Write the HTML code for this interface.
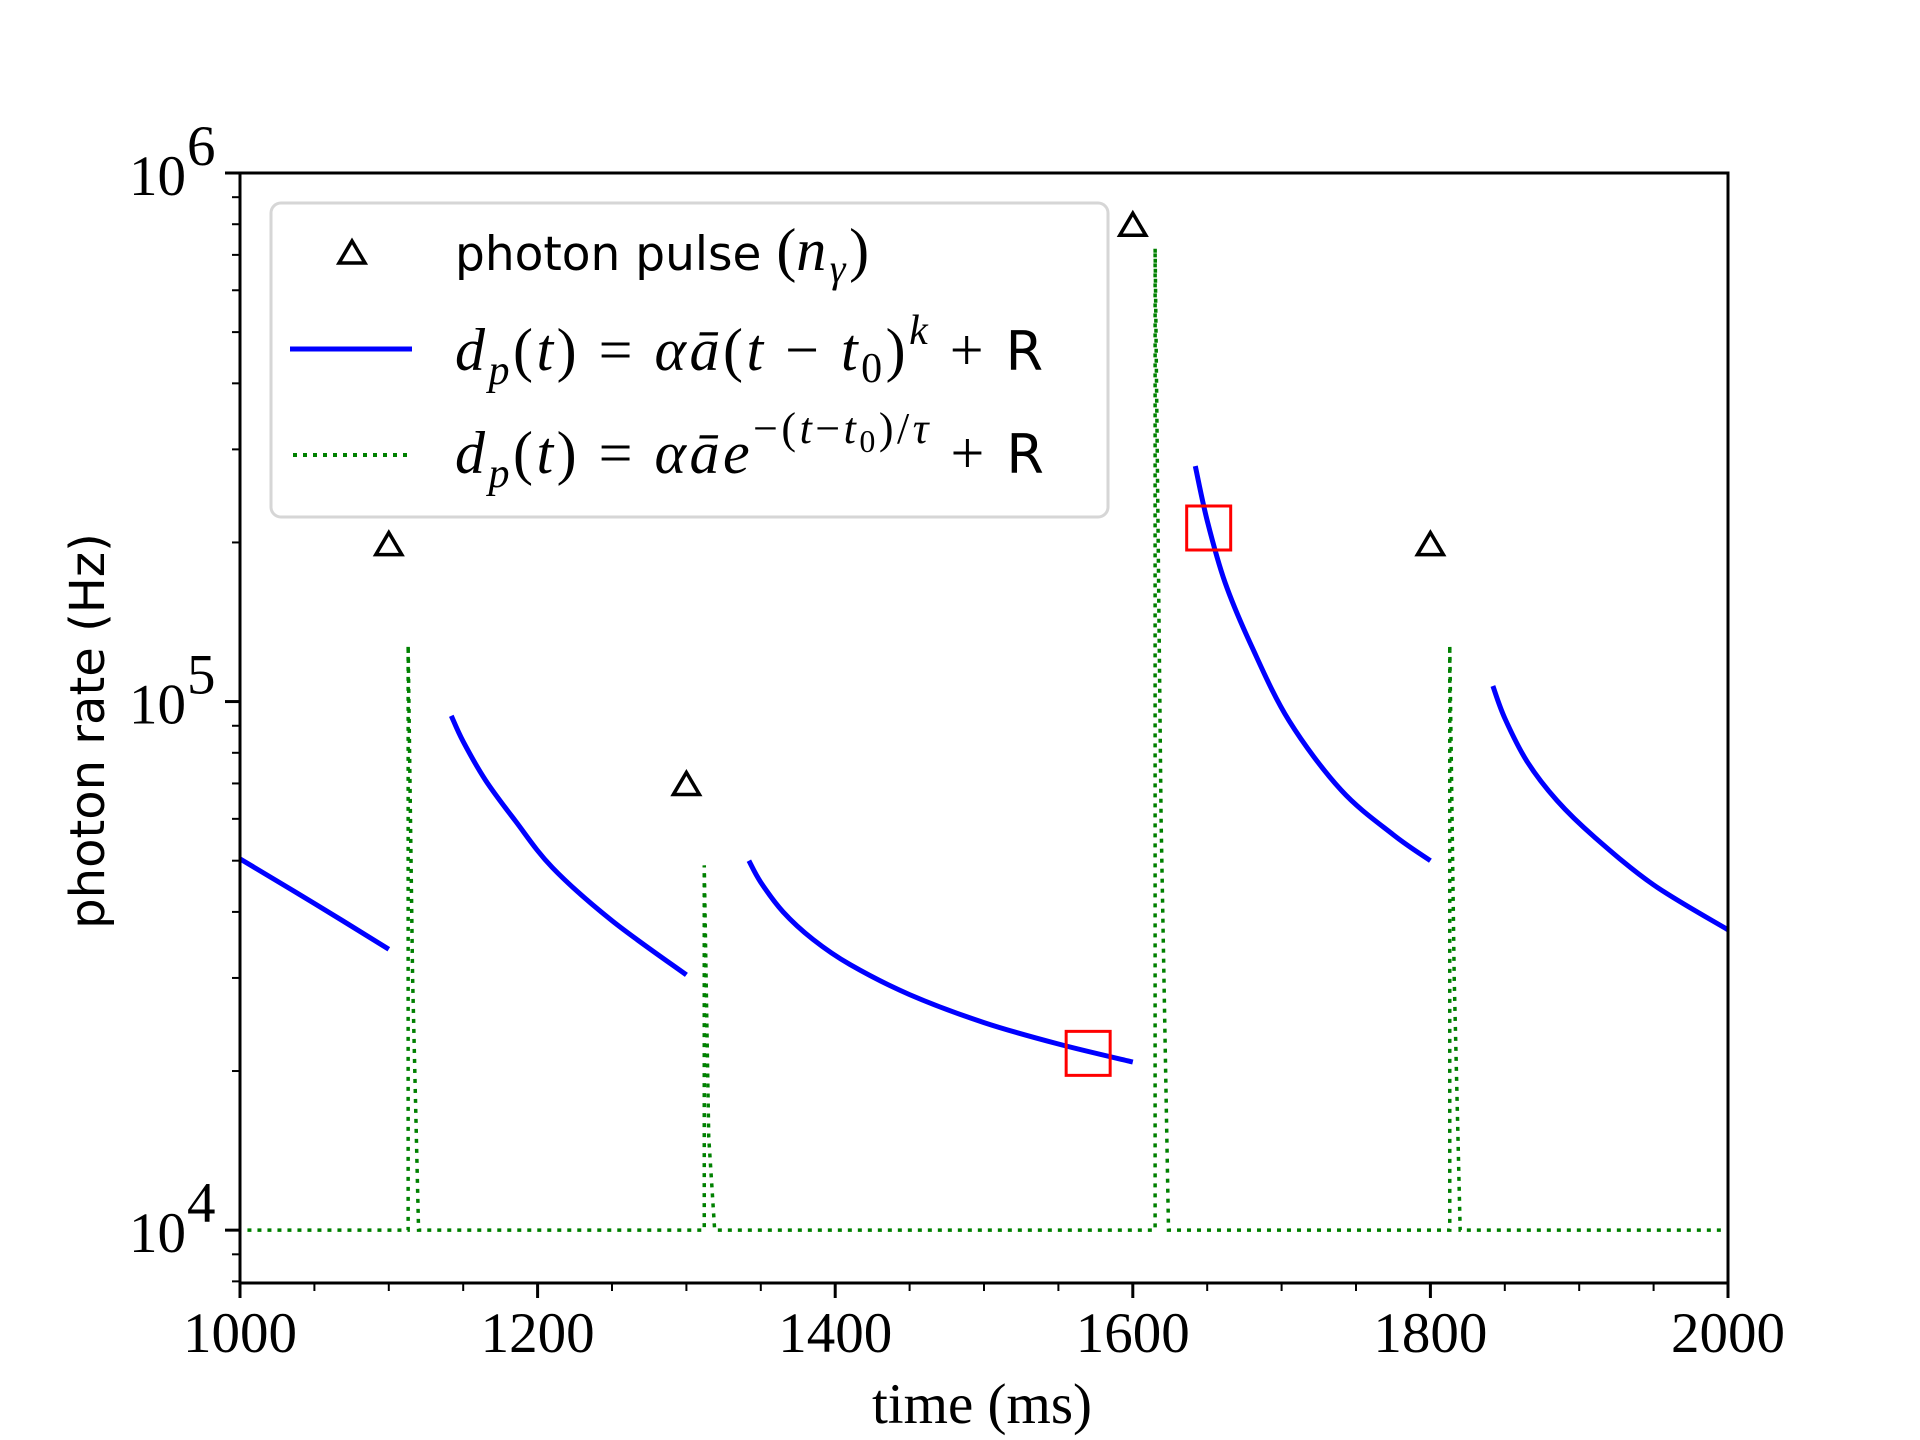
<!DOCTYPE html>
<html><head><meta charset="utf-8"><style>
html,body{margin:0;padding:0;background:#fff;}
svg{display:block;}
.tick{font-family:"Liberation Serif",serif;font-size:57px;fill:#000;}
.sans{font-family:"DejaVu Sans","Liberation Sans",sans-serif;fill:#000;}
.math{font-family:"Liberation Serif",serif;font-style:italic;fill:#000;letter-spacing:3.5px;}
.rm{font-family:"Liberation Serif",serif;font-style:normal;}
</style></head><body>
<svg id="chart" width="1920" height="1440" viewBox="0 0 1920 1440" xmlns="http://www.w3.org/2000/svg">
<rect width="1920" height="1440" fill="#fff"/>
<g id="plot"></g>
<g id="axes"></g>
<g id="legend">
  <rect x="271" y="203" width="837" height="314" rx="10" fill="#fff" fill-opacity="0.85" stroke="#d6d6d6" stroke-width="3"/>
  <polygon points="339,263 352,241 365,263" fill="none" stroke="#000" stroke-width="3.5"/>
  <text x="455" y="270" class="sans" font-size="47">photon pulse <tspan class="rm" font-size="60">(</tspan><tspan class="math" font-size="60">n</tspan><tspan class="math" font-size="40" dy="12">γ</tspan><tspan class="rm" font-size="60" dy="-12">)</tspan></text>
  <line x1="290" y1="349" x2="412" y2="349" stroke="#0000ff" stroke-width="5"/>
  <text x="455" y="370" class="math" font-size="60">d<tspan font-size="42" dy="14">p</tspan><tspan class="rm" dy="-14">(</tspan>t<tspan class="rm">)  </tspan><tspan class="rm">=  </tspan>αā<tspan class="rm">(</tspan>t<tspan class="rm"> − </tspan>t<tspan class="rm" font-size="42" dy="12">0</tspan><tspan class="rm" dy="-12">)</tspan><tspan font-size="42" dy="-26">k</tspan><tspan class="rm" dy="26">  + </tspan><tspan font-family="DejaVu Sans,sans-serif" font-style="normal" font-size="54">R</tspan></text>
  <line x1="293" y1="455" x2="412" y2="455" stroke="#008000" stroke-width="4" stroke-dasharray="4,6"/>
  <text x="455" y="473" class="math" font-size="60">d<tspan font-size="42" dy="14">p</tspan><tspan class="rm" dy="-14">(</tspan>t<tspan class="rm">)  </tspan><tspan class="rm">=  </tspan>αāe<tspan font-size="44" dy="-30"><tspan class="rm">−(</tspan>t<tspan class="rm">−</tspan>t<tspan class="rm" font-size="32" dy="9">0</tspan><tspan class="rm" dy="-9">)/</tspan>τ</tspan><tspan class="rm" dy="30">   + </tspan><tspan font-family="DejaVu Sans,sans-serif" font-style="normal" font-size="54">R</tspan></text>
</g>
</svg>
<script>
// ---- data ----
const xTicks = [1000, 1200, 1400, 1600, 1800, 2000];
const yDecades = [4, 5, 6];
const seg1T = [1000, 1050, 1100];
const seg1V = [50400, 41500, 34000];
const seg2T = [1142, 1150, 1165, 1185, 1210, 1250, 1300];
const seg2V = [94000, 84000, 71000, 59500, 48500, 38500, 30400];
const seg3T = [1342, 1350, 1365, 1385, 1410, 1450, 1500, 1550, 1600];
const seg3V = [50000, 45500, 40000, 35500, 31800, 27900, 24700, 22500, 20800];
const seg4T = [1642, 1650, 1662, 1680, 1705, 1740, 1775, 1800];
const seg4V = [279000, 220000, 168000, 127000, 92000, 68000, 56000, 50000];
const seg5T = [1842, 1850, 1865, 1885, 1910, 1950, 2000];
const seg5V = [107000, 93000, 77000, 65000, 55500, 45000, 37000];
const expT = [1005, 1113, 1113, 1116, 1120, 1312, 1312, 1315, 1319, 1615, 1615, 1619, 1624, 1813, 1813, 1816, 1820, 2000];
const expV = [10000, 10000, 128000, 30000, 10000, 10000, 49000, 15000, 10000, 10000, 721000, 60000, 10000, 10000, 128000, 30000, 10000, 10000];
const pulseT = [1100, 1300, 1600, 1800];
const pulseV = [199000, 70000, 800000, 199000];
const boxT = [1570, 1651];
const boxV = [21600, 213000];

// ---- axes functions ----
const X0 = 240, X1 = 1728, Y0 = 1283, Y1 = 173;
const xMin = 1000, xMax = 2000, lMin = 3.9, lMax = 6;
const xs = t => X0 + (t - xMin) / (xMax - xMin) * (X1 - X0);
const ys = v => Y0 - (Math.log10(v) - lMin) / (lMax - lMin) * (Y0 - Y1);
const NS = "http://www.w3.org/2000/svg";
const plot = document.getElementById('plot');
const axes = document.getElementById('axes');
function mk(tag, attrs, parent) {
  const e = document.createElementNS(NS, tag);
  for (const k in attrs) e.setAttribute(k, attrs[k]);
  parent.appendChild(e);
  return e;
}
function smoothPath(T, V) {
  const p = T.map((t, i) => [xs(t), ys(V[i])]);
  let d = 'M' + p[0][0] + ',' + p[0][1];
  for (let i = 0; i < p.length - 1; i++) {
    const a = p[i - 1] || p[i], b = p[i], c = p[i + 1], e = p[i + 2] || c;
    const c1 = [b[0] + (c[0] - a[0]) / 6, b[1] + (c[1] - a[1]) / 6];
    const c2 = [c[0] - (e[0] - b[0]) / 6, c[1] - (e[1] - b[1]) / 6];
    d += ' C' + c1 + ' ' + c2 + ' ' + c;
  }
  return d;
}
const ep = expT.map((t, i) => xs(t) + ',' + ys(expV[i])).join(' ');
const eLine = mk('polyline', {points: ep, fill: 'none', stroke: '#008000', 'stroke-width': 3.5, 'stroke-dasharray': '4,6'}, plot);


const segs = [[seg1T, seg1V], [seg2T, seg2V], [seg3T, seg3V], [seg4T, seg4V], [seg5T, seg5V]];
segs.forEach((s, i) => {
  const p = mk('path', {d: smoothPath(s[0], s[1]), fill: 'none', stroke: '#0000ff', 'stroke-width': 5}, plot);
  
  
});
pulseT.forEach((t, i) => {
  const x = xs(t), y = ys(pulseV[i]);
  const tri = mk('polygon', {points: (x - 13) + ',' + (y + 11) + ' ' + x + ',' + (y - 11) + ' ' + (x + 13) + ',' + (y + 11), fill: 'none', stroke: '#000', 'stroke-width': 3.5}, plot);
  
  
});
boxT.forEach((t, i) => {
  const x = xs(t), y = ys(boxV[i]);
  const r = mk('rect', {x: x - 22, y: y - 22, width: 44, height: 44, fill: 'none', stroke: '#ff0000', 'stroke-width': 3}, plot);
  
  
});
const fr = mk('rect', {x: X0, y: Y1, width: X1 - X0, height: Y0 - Y1, fill: 'none', stroke: '#000', 'stroke-width': 3}, axes);


for (let t = xMin; t <= xMax; t += 50) {
  const major = (t % 200 === 0);
  const l = mk('line', {x1: xs(t), x2: xs(t), y1: Y0, y2: Y0 + (major ? 15 : 8), stroke: '#000', 'stroke-width': major ? 3 : 2}, axes);
  
  
}
xTicks.forEach(t => {
  const tx = mk('text', {x: xs(t), y: 1352, 'text-anchor': 'middle', class: 'tick'}, axes);
  tx.textContent = t;
  
  
});
for (let d = 3; d <= 5; d++) {
  for (let m = 1; m <= 9; m++) {
    const v = m * Math.pow(10, d);
    const lv = Math.log10(v);
    if (lv < lMin - 1e-9 || lv > lMax + 1e-9) continue;
    const major = m === 1;
    const l = mk('line', {x1: X0 - (major ? 15 : 8), x2: X0, y1: ys(v), y2: ys(v), stroke: '#000', 'stroke-width': major ? 3 : 2}, axes);
    
    
  }
}
const l6 = mk('line', {x1: X0 - 15, x2: X0, y1: ys(1e6), y2: ys(1e6), stroke: '#000', 'stroke-width': 3}, axes);


yDecades.forEach(d => {
  const tx = mk('text', {x: 186, y: ys(Math.pow(10, d)) + 22, 'text-anchor': 'end', class: 'tick'}, axes);
  tx.textContent = '10';
  
  
  const sp = mk('text', {x: 187, y: ys(Math.pow(10, d)) - 8, class: 'tick', 'font-size': 40}, axes);
  sp.textContent = d;
  
  
});
const xt = mk('text', {x: 982, y: 1423, 'text-anchor': 'middle', class: 'tick'}, axes);
xt.textContent = 'time (ms)';


const yt = mk('text', {x: 0, y: 0, 'text-anchor': 'middle', class: 'sans', 'font-size': 48, transform: 'translate(104,731) rotate(-90)'}, axes);
yt.textContent = 'photon rate (Hz)';


</script>
</body></html>
